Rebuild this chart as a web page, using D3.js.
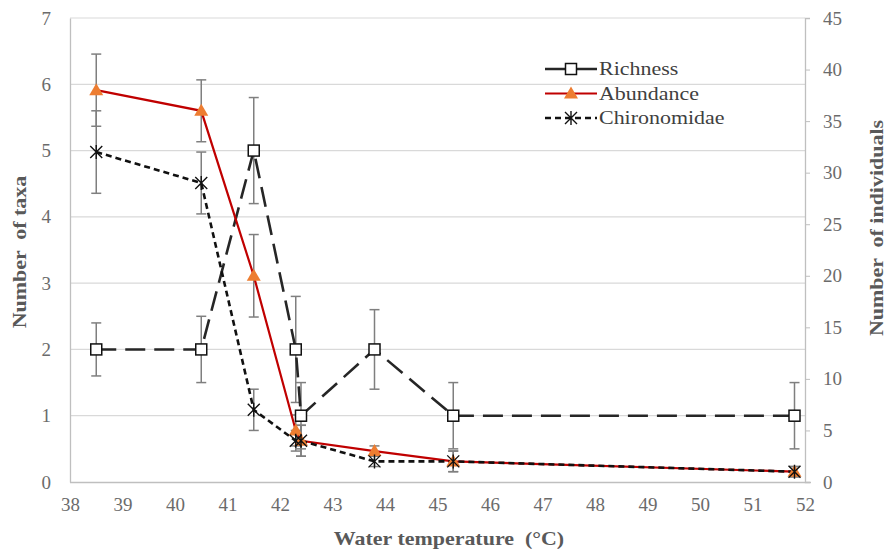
<!DOCTYPE html>
<html><head><meta charset="utf-8">
<script src="https://cdn.jsdelivr.net/npm/d3@7"></script>
<style>body{margin:0;background:#fff}text{white-space:pre}</style>
</head><body>
<svg id="c" width="894" height="549"></svg>
<script>
const temperature=[38.5,40.5,41.5,42.3,42.4,43.8,45.3,51.8];
const richness=[2,2,5,2,1,2,1,1];
const richnessErr=[0.4,0.5,0.8,0.8,0.5,0.6,0.5,0.5];
const abundance=[38,36,20,5,4,3,2,1];
const abundanceErr=[3.5,3,4,1.5,1.5,0.5,1,0.5];
const chironomidae=[32,29,7,4,4,2,2,1];
const chironomidaeErr=[4,3,2,1,1.5,0.5,1,0.5];
const xTicks=d3.range(38,53,1);
const leftTicks=d3.range(0,8,1);
const rightTicks=d3.range(0,50,5);
const seriesNames=["Richness","Abundance","Chironomidae"];

const FONT="Liberation Serif";
const svg=d3.select("#c");
const L=70,R=805,T=18,B=482;
const x=d3.scaleLinear().domain([38,52]).range([L,R]);
const yL=d3.scaleLinear().domain([0,7]).range([B,T]);
const yR=d3.scaleLinear().domain([0,45]).range([B,T]);
const SX=1.22;
const gray="#595959";

// gridlines
svg.append("g").selectAll("line").data(leftTicks.filter(d=>d>0)).join("line")
  .attr("x1",L).attr("x2",R).attr("y1",d=>yL(d)).attr("y2",d=>yL(d))
  .attr("stroke","#d9d9d9").attr("stroke-width",1.2);

// axes
const axL=svg.append("g").attr("transform",`translate(${L},0)`).call(d3.axisLeft(yL).tickValues(leftTicks).tickFormat(d3.format("d")).tickSize(0).tickPadding(19));
const axR=svg.append("g").attr("transform",`translate(${R},0)`).call(d3.axisRight(yR).tickValues(rightTicks).tickFormat(d3.format("d")).tickSize(5).tickPadding(13));
const axB=svg.append("g").attr("transform",`translate(0,${B})`).call(d3.axisBottom(x).tickValues(xTicks).tickFormat(d3.format("d")).tickSize(0).tickPadding(16));
[axL,axR,axB].forEach(a=>{
  a.attr("font-family",FONT).attr("font-size",19);
  a.select(".domain").attr("stroke","#bfbfbf").attr("stroke-width",1.3);
  a.selectAll(".tick line").attr("stroke","#bfbfbf");
  a.selectAll("text").attr("fill","#6b6b6b").attr("font-family",FONT);
});
axB.select(".domain").attr("d",`M${L},0.5H${R+6}`);

// axis titles
function title(tr,txt){
  svg.append("text").attr("transform",tr).attr("text-anchor","middle").attr("font-family",FONT)
    .attr("font-weight","bold").attr("font-size",18).attr("fill",gray).text(txt);
}
title(`translate(449,545) scale(${SX},1)`,"Water temperature  (°C)");
title(`translate(26,252) rotate(-90) scale(${SX},1)`,"Number  of taxa");
title(`translate(883,228) rotate(-90) scale(${SX},1)`,"Number  of individuals");

// error bars
function errBars(vals,errs,y){
  const g=svg.append("g").attr("stroke","#7f7f7f").attr("stroke-width",1.5);
  temperature.forEach((t,i)=>{
    const cx=x(t),y1=y(vals[i]+errs[i]),y2=y(vals[i]-errs[i]);
    g.append("line").attr("x1",cx).attr("x2",cx).attr("y1",y1).attr("y2",y2);
    g.append("line").attr("x1",cx-5).attr("x2",cx+5).attr("y1",y1).attr("y2",y1);
    g.append("line").attr("x1",cx-5).attr("x2",cx+5).attr("y1",y2).attr("y2",y2);
  });
}
errBars(richness,richnessErr,yL);
errBars(abundance,abundanceErr,yR);
errBars(chironomidae,chironomidaeErr,yR);

// lines
const styles={
  Richness:{stroke:"#262626",width:2.6,dash:"20,9"},
  Abundance:{stroke:"#c00000",width:2.2,dash:null},
  Chironomidae:{stroke:"#111",width:2.6,dash:"6,4"}
};
function drawLine(vals,y,st){
  svg.append("path").datum(vals.map((v,i)=>[temperature[i],v]))
    .attr("d",d3.line().x(d=>x(d[0])).y(d=>y(d[1])))
    .attr("fill","none").attr("stroke",st.stroke).attr("stroke-width",st.width)
    .attr("stroke-dasharray",st.dash);
}
drawLine(richness,yL,styles.Richness);
drawLine(abundance,yR,styles.Abundance);
drawLine(chironomidae,yR,styles.Chironomidae);

// markers
function square(g,cx,cy){g.append("rect").attr("x",cx-5.5).attr("y",cy-5.5).attr("width",11).attr("height",11)
  .attr("fill","#fff").attr("stroke","#111").attr("stroke-width",1.5);}
function tri(g,cx,cy){g.append("path").attr("d",`M${cx},${cy-7}L${cx+7},${cy+5}L${cx-7},${cy+5}Z`).attr("fill","#ed7d31");}
function star(g,cx,cy){const s=6;g.append("path").attr("d",`M${cx-s},${cy-s}L${cx+s},${cy+s}M${cx+s},${cy-s}L${cx-s},${cy+s}M${cx},${cy-s-1}L${cx},${cy+s+1}`)
  .attr("stroke","#111").attr("stroke-width",1.4).attr("fill","none");}
const mg=svg.append("g");
temperature.forEach((t,i)=>square(mg,x(t),yL(richness[i])));
temperature.forEach((t,i)=>tri(mg,x(t),yR(abundance[i])));
temperature.forEach((t,i)=>star(mg,x(t),yR(chironomidae[i])));

// legend
const leg=svg.append("g");
const markers=[square,tri,star];
seriesNames.forEach((n,i)=>{
  const ly=69+i*24.5, st=styles[n];
  leg.append("line").attr("x1",545).attr("x2",597).attr("y1",ly).attr("y2",ly)
    .attr("stroke",st.stroke).attr("stroke-width",st.width)
    .attr("stroke-dasharray",n==="Chironomidae"?"6,4":null);
  markers[i](leg,571,ly);
  leg.append("text").attr("transform",`translate(599,${ly+6}) scale(${SX},1)`).attr("font-family",FONT)
    .attr("font-size",18).attr("fill","#404040").text(n);
});
</script>
</body></html>
